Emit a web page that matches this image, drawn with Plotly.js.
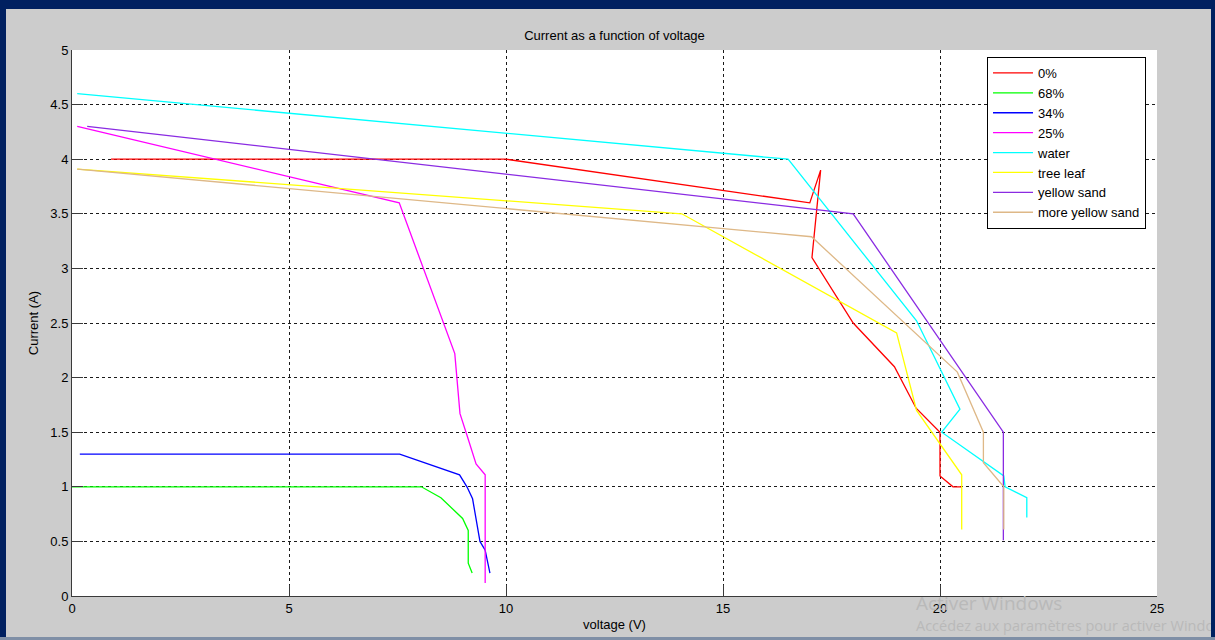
<!DOCTYPE html>
<html>
<head>
<meta charset="utf-8">
<script src="https://cdn.plot.ly/plotly-3.0.1.min.js"></script>
<style>
  html, body { margin: 0; padding: 0; background: #cccccc; overflow: hidden; }
  #wrap { position: relative; width: 1215px; height: 640px; }
  #chart { position: absolute; left: 0; top: 0; width: 1215px; height: 640px; }
  .bd { position: absolute; background: #002060; }
</style>
</head>
<body>
<div id="wrap">
  <div id="chart"></div>
  <div class="bd" style="left:0;top:0;width:1215px;height:9px;"></div>
  <div class="bd" style="left:0;top:0;width:6px;height:640px;"></div>
  <div class="bd" style="left:1211px;top:0;width:4px;height:640px;"></div>
  <div style="position:absolute;left:0;top:637px;width:1215px;height:3px;background:#7f8fa6;"></div>
</div>
<script>
// ---- data ----
const seriesNames = ["0%", "68%", "34%", "25%", "water", "tree leaf", "yellow sand", "more yellow sand"];

const v0   = [0.9, 10, 17, 17.25, 17.05, 18.0, 18.95, 19.45, 20, 20, 20.3, 20.5];
const i0   = [4.0, 4.0, 3.6, 3.9, 3.1, 2.5, 2.1, 1.72, 1.5, 1.1, 1.0, 1.0];

const v68  = [0, 8.05, 8.5, 9.0, 9.13, 9.13, 9.22];
const i68  = [1.0, 1.0, 0.9, 0.71, 0.6, 0.3, 0.21];

const v34  = [0.18, 7.55, 8.93, 9.1, 9.23, 9.4, 9.52, 9.63];
const i34  = [1.3, 1.3, 1.11, 1.0, 0.89, 0.5, 0.42, 0.21];

const v25  = [0.12, 7.54, 8.82, 8.94, 9.11, 9.31, 9.52, 9.52];
const i25  = [4.3, 3.6, 2.22, 1.67, 1.46, 1.21, 1.11, 0.12];

const vWater = [0.12, 16.5, 19.46, 20.46, 20.04, 21.47, 21.5, 22.0, 22.0];
const iWater = [4.6, 4.0, 2.52, 1.71, 1.5, 1.1, 1.0, 0.9, 0.72];

const vLeaf = [0.12, 14.05, 19.0, 19.46, 20.5, 20.5];
const iLeaf = [3.91, 3.5, 2.41, 1.7, 1.11, 0.61];

const vSand = [0.35, 18.0, 21.46, 21.46];
const iSand = [4.3, 3.5, 1.5, 0.51];

const vMoreSand = [0.12, 17.04, 20.4, 21.0, 21.0, 21.47, 21.47];
const iMoreSand = [3.91, 3.29, 2.05, 1.5, 1.22, 1.0, 0.61];

const xTicks = [0, 5, 10, 15, 20, 25];
const yTicks = [0, 0.5, 1, 1.5, 2, 2.5, 3, 3.5, 4, 4.5, 5];
const yTickText = ["0", "0.5", "1", "1.5", "2", "2.5", "3", "3.5", "4", "4.5", "5"];

// ---- styling ----
const colors = ["#ff0000", "#00ff00", "#0000ff", "#ff00ff", "#00ffff", "#ffff00", "#8a2be2", "#deb887"];
const xs = [v0, v68, v34, v25, vWater, vLeaf, vSand, vMoreSand];
const ys = [i0, i68, i34, i25, iWater, iLeaf, iSand, iMoreSand];

const FONT = "Liberation Sans, Arial, sans-serif";

const traces = seriesNames.map((n, k) => ({
  type: "scatter",
  mode: "lines",
  name: n,
  x: xs[k],
  y: ys[k],
  line: { color: colors[k], width: 1.3 },
  hoverinfo: "x+y+name"
}));

const axisCommon = {
  showline: true,
  linecolor: "#3a3a3a",
  linewidth: 1,
  ticks: "inside",
  ticklen: 11,
  tickcolor: "#3a3a3a",
  tickwidth: 1,
  showgrid: true,
  gridcolor: "#1a1a1a",
  gridwidth: 1,
  griddash: "3px,3px",
  zeroline: false,
  tickfont: { family: FONT, size: 13, color: "#000" },
  mirror: false
};

const layout = {
  width: 1215,
  height: 640,
  margin: { l: 72, r: 58, t: 50, b: 44, pad: 0 },
  paper_bgcolor: "#cccccc",
  plot_bgcolor: "#ffffff",
  font: { family: FONT, size: 13, color: "#000" },
  title: {
    text: "Current as a function of voltage",
    font: { family: FONT, size: 13, color: "#000" },
    x: 0.5, xref: "paper", xanchor: "center",
    y: 1 - 35 / 640, yref: "container", yanchor: "middle"
  },
  xaxis: Object.assign({}, axisCommon, {
    range: [0, 25],
    tickvals: xTicks,
    ticktext: xTicks.map(String),
    title: { text: "voltage (V)", font: { family: FONT, size: 13, color: "#000" }, standoff: 5 }
  }),
  yaxis: Object.assign({}, axisCommon, {
    range: [0, 5],
    tickvals: yTicks,
    ticktext: yTickText,
    title: { text: "Current (A)", font: { family: FONT, size: 13, color: "#000" }, standoff: 8 }
  }),
  showlegend: true,
  legend: {
    x: (987 - 72) / 1085,
    y: (596 - 57) / 546,
    xanchor: "left",
    yanchor: "top",
    bgcolor: "#ffffff",
    bordercolor: "#000000",
    borderwidth: 1,
    font: { family: FONT, size: 13, color: "#000" },
    tracegroupgap: 0,
    itemwidth: 40
  },
  annotations: [
    {
      text: "Activer Windows",
      xref: "paper", yref: "paper",
      x: (914 - 72) / 1085, y: (596 - 603) / 546,
      xanchor: "left", yanchor: "middle",
      showarrow: false,
      font: { family: "Open Sans, Noto Sans, sans-serif", size: 19, color: "#b9b9b9" }
    },
    {
      text: "Accédez aux paramètres pour activer Windows.",
      xref: "paper", yref: "paper",
      x: (914 - 72) / 1085, y: (596 - 625) / 546,
      xanchor: "left", yanchor: "middle",
      showarrow: false,
      font: { family: "Open Sans, Noto Sans, sans-serif", size: 14.5, color: "#b9b9b9" }
    }
  ]
};

Plotly.newPlot("chart", traces, layout, { staticPlot: true, displayModeBar: false });
</script>
</body>
</html>
